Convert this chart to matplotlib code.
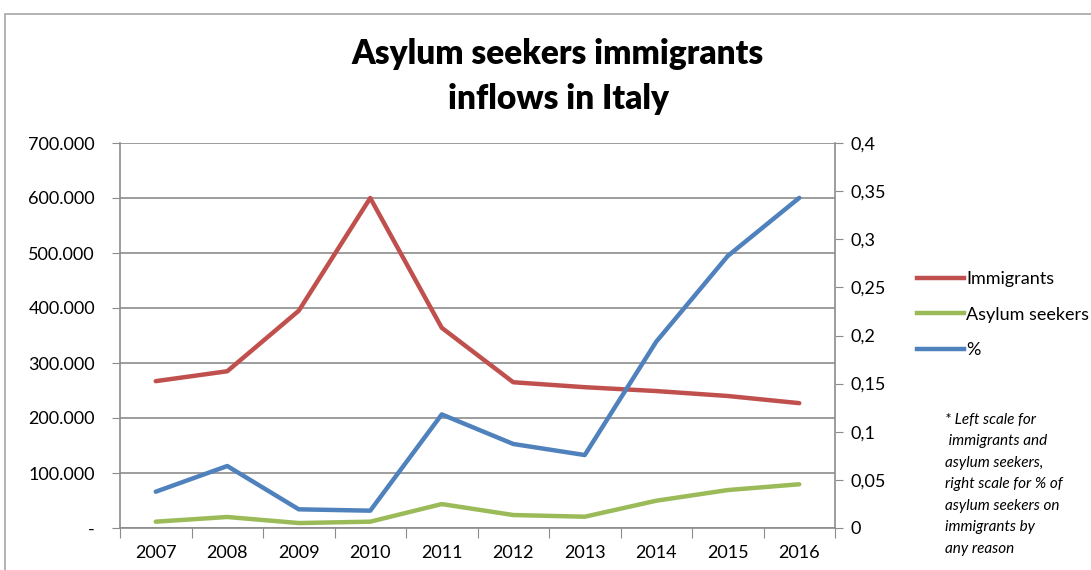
import matplotlib
matplotlib.use("Agg")
import matplotlib.pyplot as plt
from matplotlib.patches import Rectangle
from matplotlib.lines import Line2D

plt.rcParams['font.family'] = ['Lato', 'DejaVu Sans']

# dati
years = ['2007', '2008', '2009', '2010', '2011', '2012', '2013', '2014', '2015', '2016']
immigrants = [267000, 285000, 395000, 600000, 364000, 265000, 256000, 249000, 240000, 227000]
asylum = [11500, 20000, 9000, 11500, 43500, 23600, 20500, 49600, 69000, 79500]
share = [0.0377, 0.0644, 0.0194, 0.018, 0.118, 0.0873, 0.0758, 0.1936, 0.2826, 0.343]

left_ticks = [0, 100000, 200000, 300000, 400000, 500000, 600000, 700000]
right_ticks = [0, 0.05, 0.1, 0.15, 0.2, 0.25, 0.3, 0.35, 0.4]

red = '#c0504d'
green = '#9bbb59'
blue = '#4f81bd'
grid_col = '#8c8c8c'

W, H = 1091, 570
fig = plt.figure(figsize=(W / 100, H / 100), dpi=100)

# cornice del grafico
fig.patches.append(Rectangle((5 / W, -0.1), 1.2, 1 - 14 / H + 0.1, transform=fig.transFigure,
                             fill=False, edgecolor='#a6a6a6', linewidth=1.2))

ax = fig.add_axes([120 / W, 1 - 528 / H, 715 / W, 385 / H])
x = list(range(len(years)))

ax.plot(x, immigrants, color=red, lw=3.2, solid_capstyle='round', label='Immigrants')
ax.plot(x, asylum, color=green, lw=3.2, solid_capstyle='round', label='Asylum seekers')
ax.set_ylim(0, 700000)
ax.set_xlim(-0.5, 9.5)
ax.set_yticks(left_ticks)
ax.set_yticklabels(['-' if v == 0 else f"{v:,}".replace(',', '.') for v in left_ticks])
ax.set_xticks([i - 0.5 for i in range(len(years) + 1)])
ax.set_xticklabels([])
ax.set_xticks(x, minor=True)
ax.set_xticklabels(years, minor=True)
ax.tick_params(axis='x', which='minor', length=0, pad=12, labelsize=13)
ax.tick_params(axis='x', which='major', length=7, color=grid_col, direction='out')
ax.tick_params(axis='y', length=6, color=grid_col, labelsize=13, pad=12)
ax.grid(axis='y', color=grid_col, lw=1.2)
ax.set_axisbelow(True)
for s in ['top', 'right']:
    ax.spines[s].set_visible(False)
for s in ['left', 'bottom']:
    ax.spines[s].set_color(grid_col)
    ax.spines[s].set_linewidth(1.2)

ax2 = ax.twinx()
ax2.plot(x, share, color=blue, lw=3.2, solid_capstyle='round', label='%')
ax2.set_ylim(0, 0.4)
ax2.set_yticks(right_ticks)
ax2.set_yticklabels(['0' if v == 0 else f"{v:g}".replace('.', ',') for v in right_ticks])
ax2.tick_params(axis='y', length=6, color=grid_col, labelsize=13, pad=5)
for s in ['top', 'left', 'bottom']:
    ax2.spines[s].set_visible(False)
ax2.spines['right'].set_color(grid_col)
ax2.spines['right'].set_linewidth(1.2)

fig.text(558 / W, 1 - 54 / H, 'Asylum seekers immigrants', ha='center', va='center',
         fontsize=24, fontweight='heavy')
fig.text(558 / W, 1 - 99 / H, 'inflows in Italy', ha='center', va='center',
         fontsize=24, fontweight='heavy')

handles = [Line2D([], [], color=red, lw=3.2),
           Line2D([], [], color=green, lw=3.2),
           Line2D([], [], color=blue, lw=3.2)]
fig.legend(handles, ['Immigrants', 'Asylum seekers', '%'], loc='upper left',
           bbox_to_anchor=(910 / W, 1 - 264 / H), frameon=False, fontsize=13,
           handlelength=2.6, handletextpad=0.1, labelspacing=1.08, borderaxespad=0)

note = ("* Left scale for\n immigrants and\nasylum seekers,\nright scale for % of\n"
        "asylum seekers on\nimmigrants by\nany reason")
fig.text(945 / W, 1 - 413 / H, note, ha='left', va='top', fontsize=11,
         fontstyle='italic', linespacing=1.68)

fig.savefig('out.png', dpi=100)
